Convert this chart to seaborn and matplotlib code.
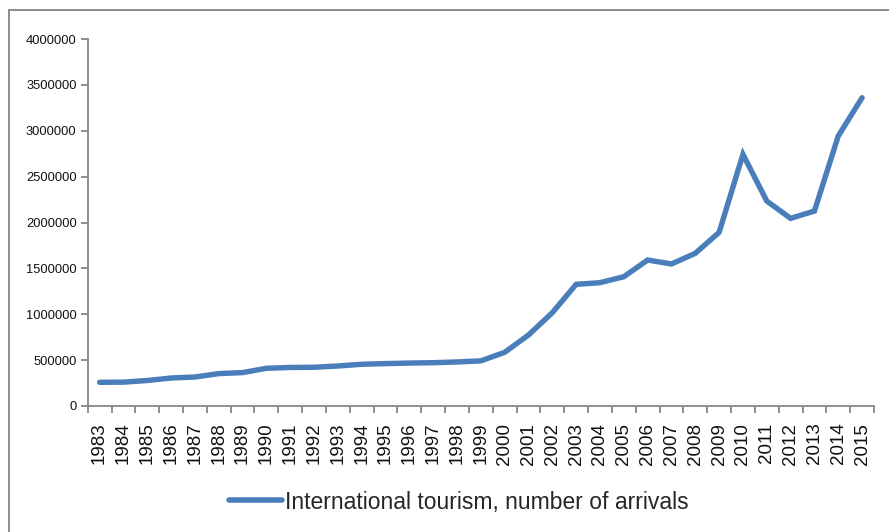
import matplotlib
matplotlib.use("Agg")
import matplotlib.pyplot as plt
from matplotlib.patches import Rectangle
from matplotlib.ticker import FixedLocator
import seaborn as sns
import pandas as pd

years = [str(y) for y in range(1983, 2016)]
arrivals = [258000, 260000, 278000, 305000, 316000, 353000, 364000, 411000,
            420000, 422000, 436000, 455000, 462000, 468000, 472000, 480000,
            492000, 585000, 774000, 1017000, 1326000, 1344000, 1409000, 1591000,
            1548000, 1664000, 1893000, 2743000, 2234000, 2045000, 2125000,
            2943000, 3360000]
series_name = "International tourism, number of arrivals"
y_ticks = list(range(0, 4000001, 500000))

sns.set_style("white")
plt.rcParams["font.family"] = ["Liberation Sans", "DejaVu Sans"]

W, H = 889, 532
fig = plt.figure(figsize=(W / 100, H / 100), dpi=100)
ax = fig.add_axes([87.7 / W, 1 - 406 / H, (874 - 87.7) / W, (406 - 39) / H])

df = pd.DataFrame({"Year": years, "Arrivals": arrivals})
line_color = "#4A7EBB"
sns.lineplot(data=df, x="Year", y="Arrivals", ax=ax, color=line_color,
             linewidth=3.9, label=series_name, legend=False,
             solid_capstyle="round", solid_joinstyle="miter")

ax.set_xlim(-0.5, len(years) - 0.5)
ax.set_ylim(0, 4000000)
ax.set_yticks(y_ticks)
ax.set_yticklabels([str(v) for v in y_ticks])
ax.set_xlabel("")
ax.set_ylabel("")

gray = "#868686"
for s in ["top", "right"]:
    ax.spines[s].set_visible(False)
for s in ["left", "bottom"]:
    ax.spines[s].set_color(gray)
    ax.spines[s].set_linewidth(1.3)

ax.set_xticks(range(len(years)))
ax.set_xticklabels(years, rotation=90)
ax.xaxis.set_minor_locator(FixedLocator([i - 0.5 for i in range(len(years) + 1)]))
ax.tick_params(axis="x", which="major", length=0, pad=12, labelsize=13.5,
               labelcolor="#111111")
ax.tick_params(axis="x", which="minor", length=5, width=1.3, color=gray,
               direction="out", bottom=True)
ax.tick_params(axis="y", which="major", length=5, width=1.3, color=gray,
               direction="out", left=True, pad=3, labelsize=9.3,
               labelcolor="#111111")
ax.grid(False)

# outer chart border (extends past right and bottom edges)
fig.add_artist(Rectangle((9 / W, -0.2), 2.0, (1 - 10 / H) + 0.2,
                         transform=fig.transFigure, fill=False,
                         edgecolor="#8c8c8c", linewidth=1.4, clip_on=False))

handles, labels = ax.get_legend_handles_labels()
leg = fig.legend(handles, labels, loc="center",
                 bbox_to_anchor=(459 / W, 1 - 502 / H), frameon=False,
                 fontsize=16.5, handlelength=2.3, handletextpad=0.15)
for h in leg.legend_handles:
    h.set_linewidth(4)

fig.savefig("out.png", dpi=100, facecolor="white")
